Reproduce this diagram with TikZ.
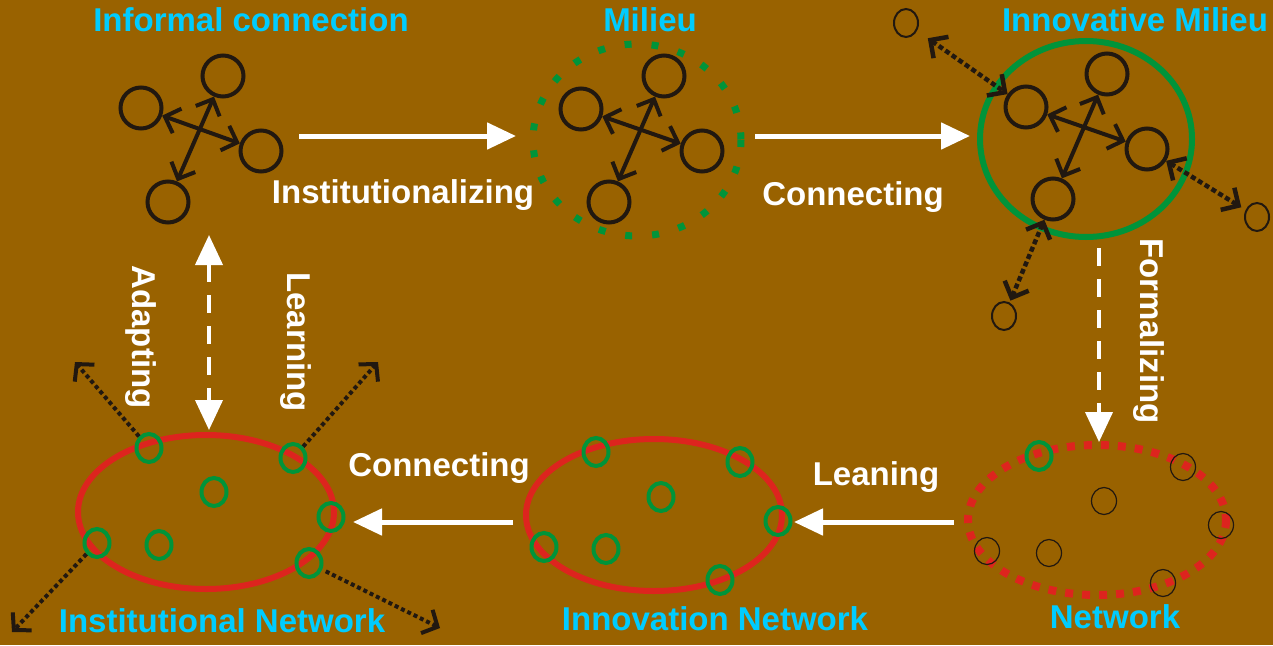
\documentclass[tikz,border=0pt]{standalone}
\usepackage{fontspec}
\setmainfont{Liberation Sans}
\usetikzlibrary{arrows.meta,positioning,shapes.geometric}
\definecolor{mudbrown}{RGB}{153,98,0}
\definecolor{skyblue}{RGB}{0,204,255}
\definecolor{leafgreen}{RGB}{0,148,58}
\definecolor{brickred}{RGB}{221,36,30}
\definecolor{inkblack}{RGB}{33,24,16}

\begin{document}
\begin{tikzpicture}[x=1pt,y=-1pt,
    lbl/.style={font=\fontsize{33}{40}\selectfont\bfseries, inner sep=0pt, white},
    title/.style={lbl, skyblue},
    actor/.style={circle, draw=inkblack, line width=4pt, minimum size=41pt, inner sep=0pt},
    outsider/.style={ellipse, draw=inkblack, line width=2pt, minimum width=24pt, minimum height=28pt, inner sep=0pt},
    member/.style={ellipse, draw=leafgreen, line width=4pt, minimum width=25pt, minimum height=28pt, inner sep=0pt},
    loose/.style={ellipse, draw=inkblack, line width=1.2pt, minimum width=25pt, minimum height=27pt, inner sep=0pt},
    tie/.style={draw=inkblack, line width=4pt,
        >={Straight Barb[length=13pt,width=26pt,line width=4pt]}, <->},
    weaktie/.style={draw=inkblack, line width=4.5pt, dash pattern=on 5pt off 3pt,
        >={Straight Barb[length=13pt,width=26pt,line width=4.5pt]}, <->},
    reach/.style={draw=inkblack, line width=4pt, dash pattern=on 4pt off 3pt,
        -{Straight Barb[length=12pt,width=26pt,line width=4pt]}},
    flowarrow/.style={draw=white, line width=5pt, -{Triangle[length=29pt,width=26pt]}},
    dashflow/.style={draw=white, line width=4pt, dash pattern=on 18pt off 13pt,
        >={Triangle[length=30pt,width=27pt]}}
  ]
  \fill[mudbrown] (0,0) rectangle (1273,645);
  \useasboundingbox (0,0) rectangle (1273,645);

  % titles
  \node[title, anchor=base] (tinf) at (251,31) {Informal connection};
  \node[title, anchor=base] (tmil) at (650,31) {Milieu};
  \node[title, anchor=base] (tinn) at (1135,31) {Innovative Milieu};
  \node[title, anchor=base] (tinst) at (222,632) {Institutional Network};
  \node[title, anchor=base] (tinnov) at (715,630) {Innovation Network};
  \node[title, anchor=base] (tnet) at (1115,628) {Network};

  % informal connection
  \node[actor] (a1) at (141,108) {};
  \node[actor] (a2) at (223,76) {};
  \node[actor] (a3) at (261,151) {};
  \node[actor] (a4) at (168,202) {};
  \draw[tie] (a1) -- (a3);
  \draw[tie] (a2) -- (a4);

  % milieu
  \draw[leafgreen, line width=7pt, dash pattern=on 7pt off 20pt] (637,140) ellipse [x radius=104, y radius=96];
  \node[actor] (b1) at (581,109) {};
  \node[actor] (b2) at (664,76) {};
  \node[actor] (b3) at (702,151) {};
  \node[actor] (b4) at (609,202) {};
  \draw[tie] (b1) -- (b3);
  \draw[tie] (b2) -- (b4);

  % innovative milieu
  \draw[leafgreen, line width=6pt] (1086,139) ellipse [x radius=106, y radius=98];
  \node[actor] (c1) at (1026,107) {};
  \node[actor] (c2) at (1107,74) {};
  \node[actor] (c3) at (1147,149) {};
  \node[actor] (c4) at (1053,199) {};
  \draw[tie] (c1) -- (c3);
  \draw[tie] (c2) -- (c4);
  \node[outsider] (f1) at (906,23) {};
  \node[outsider] (f2) at (1257,217) {};
  \node[outsider] (f3) at (1004,316) {};
  \draw[weaktie, shorten <=13pt] (f1) -- (c1);
  \draw[weaktie, shorten >=5pt] (c3) -- (f2);
  \draw[weaktie, shorten >=2pt] (c4) -- (f3);

  % transitions along the top
  \coordinate (s1) at (299,136);
  \coordinate (e1) at (516,136);
  \coordinate (s2) at (755,136);
  \coordinate (e2) at (970,136);
  \draw[flowarrow] (s1) -- (e1);
  \draw[flowarrow] (s2) -- (e2);
  \node[lbl, anchor=base] (linst) at (403,203) {Institutionalizing};
  \node[lbl, anchor=base] (lcon1) at (853,205) {Connecting};

  \coordinate (s3) at (1099,248);
  \coordinate (e3) at (1099,442);
  \draw[dashflow, ->] (s3) -- (e3);
  \node[lbl, anchor=base, rotate=-90] (lform) at (1140,331) {Formalizing};

  % network
  \draw[brickred, line width=8pt, dash pattern=on 8pt off 9pt] (1097,520) ellipse [x radius=129, y radius=75];
  \node[member] (n1) at (1039,456) {};
  \node[loose] (n2) at (1183,467) {};
  \node[loose] (n3) at (1104,501) {};
  \node[loose] (n4) at (1221,525) {};
  \node[loose] (n5) at (987,551) {};
  \node[loose] (n6) at (1049,553) {};
  \node[loose] (n7) at (1163,583) {};

  % innovation network
  \draw[brickred, line width=6pt] (654,515) ellipse [x radius=128, y radius=76];
  \node[member] (v1) at (596,452) {};
  \node[member] (v2) at (740,462) {};
  \node[member] (v3) at (661,497) {};
  \node[member] (v4) at (778,521) {};
  \node[member] (v5) at (544,547) {};
  \node[member] (v6) at (606,549) {};
  \node[member] (v7) at (720,580) {};

  % institutional network
  \draw[brickred, line width=6pt] (206,512) ellipse [x radius=128, y radius=77];
  \node[member] (g1) at (149,448) {};
  \node[member] (g2) at (293,458) {};
  \node[member] (g3) at (214,492) {};
  \node[member] (g4) at (331,517) {};
  \node[member] (g5) at (97,543) {};
  \node[member] (g6) at (159,545) {};
  \node[member] (g7) at (309,563) {};
  \coordinate (o1) at (75,362);
  \coordinate (o2) at (378,362);
  \coordinate (o3) at (12,632);
  \coordinate (o4) at (440,628);
  \draw[reach] (g1) -- (o1);
  \draw[reach] (g2) -- (o2);
  \draw[reach] (g5) -- (o3);
  \draw[reach, shorten <=4pt] (g7) -- (o4);

  % transitions along the bottom
  \coordinate (s4) at (954,522);
  \coordinate (e4) at (794,522);
  \coordinate (s5) at (513,522);
  \coordinate (e5) at (353,522);
  \draw[flowarrow] (s4) -- (e4);
  \draw[flowarrow] (s5) -- (e5);
  \node[lbl, anchor=base] (llean) at (876,485) {Leaning};
  \node[lbl, anchor=base] (lcon2) at (439,476) {Connecting};

  \coordinate (s6) at (209,235);
  \coordinate (e6) at (209,430);
  \draw[dashflow, <->] (s6) -- (e6);
  \node[lbl, anchor=base, rotate=-90] (ladapt) at (132,337) {Adapting};
  \node[lbl, anchor=base, rotate=-90] (llearn) at (287,342) {Learning};
\end{tikzpicture}
\end{document}
